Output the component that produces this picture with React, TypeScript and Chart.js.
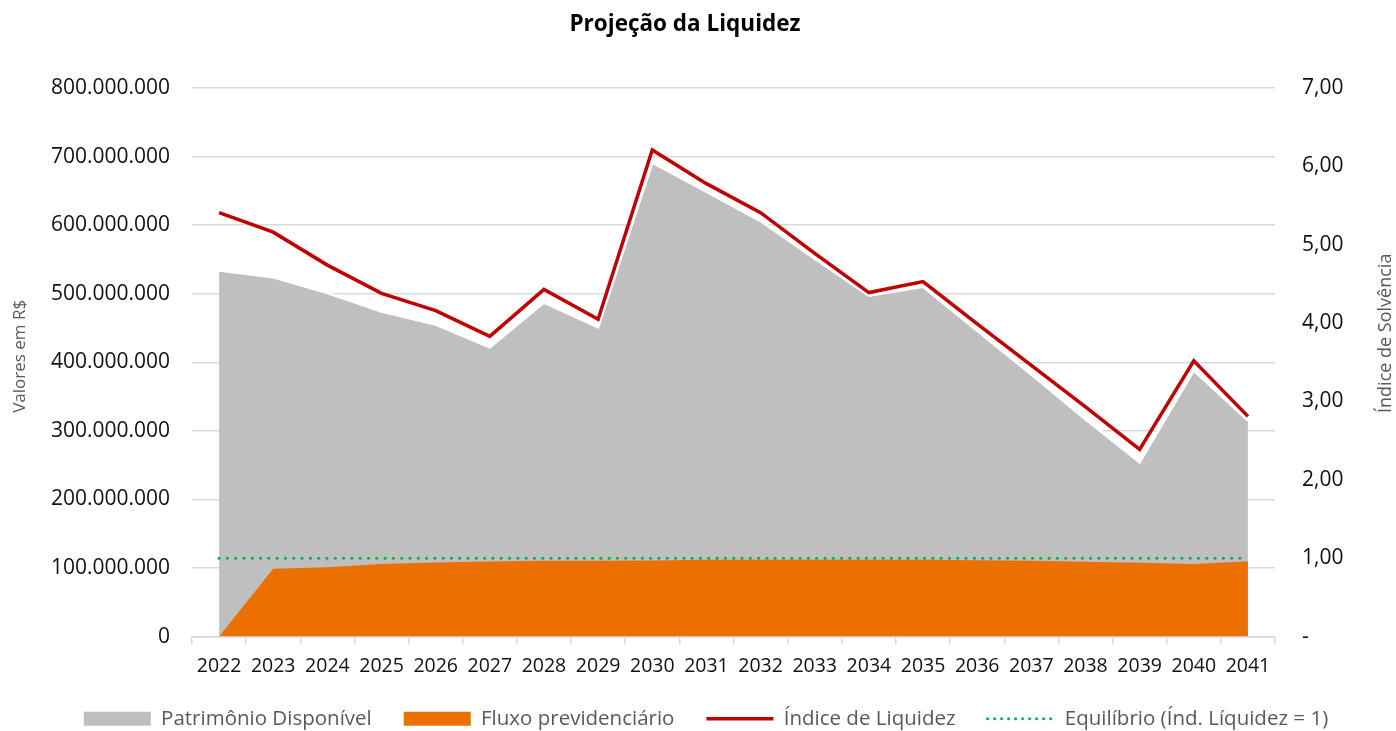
import React, { useEffect, useRef } from "react";
import { Chart, registerables } from "chart.js";

Chart.register(...registerables);

const years = ["2022","2023","2024","2025","2026","2027","2028","2029","2030","2031","2032","2033","2034","2035","2036","2037","2038","2039","2040","2041"];
const patrimonioDisponivel = [534000000, 524000000, 501000000, 474000000, 455000000, 422000000, 487000000, 451000000, 691000000, 649000000, 606000000, 551000000, 497000000, 510000000, 446000000, 382000000, 317000000, 254000000, 388000000, 315000000];
const fluxoPrevidenciario = [0, 98800000, 101000000, 106000000, 108000000, 109500000, 110500000, 110500000, 111000000, 112000000, 112000000, 112000000, 112000000, 112000000, 111500000, 110500000, 109000000, 107600000, 106000000, 110000000];
const indiceLiquidez = [5.41, 5.16, 4.74, 4.38, 4.16, 3.83, 4.43, 4.05, 6.21, 5.78, 5.41, 4.89, 4.39, 4.53, 3.99, 3.46, 2.93, 2.39, 3.52, 2.81];
const equilibrio = [1, 1, 1, 1, 1, 1, 1, 1, 1, 1, 1, 1, 1, 1, 1, 1, 1, 1, 1, 1];
const leftTicksMax = 800000000;
const rightTicksMax = 7;

const chartTitle = "Projeção da Liquidez";
const leftAxisTitle = "Valores em R$";
const rightAxisTitle = "Índice de Solvência";

const FONT = "'Open Sans', 'Noto Sans', sans-serif";

function fmtThousands(v: number): string {
  const s = Math.round(v).toString();
  return s.replace(/\B(?=(\d{3})+(?!\d))/g, ".");
}

const titlesPlugin = {
  id: "titles",
  afterDraw(chart: any) {
    const { ctx, chartArea } = chart;
    const mid = (chartArea.top + chartArea.bottom) / 2;
    ctx.save();
    ctx.fillStyle = "#000000";
    ctx.font = `bold 22.5px ${FONT}`;
    ctx.textAlign = "center";
    ctx.textBaseline = "middle";
    ctx.fillText(chartTitle, 685, 25);
    ctx.restore();

    ctx.save();
    ctx.fillStyle = "#595959";
    ctx.font = `17px ${FONT}`;
    ctx.textAlign = "center";
    ctx.textBaseline = "middle";
    ctx.translate(20, mid - 6);
    ctx.rotate(-Math.PI / 2);
    ctx.fillText(leftAxisTitle, 0, 0);
    ctx.restore();

    ctx.save();
    ctx.fillStyle = "#595959";
    ctx.font = `18px ${FONT}`;
    ctx.textAlign = "center";
    ctx.textBaseline = "middle";
    ctx.translate(1386, mid - 29);
    ctx.rotate(-Math.PI / 2);
    ctx.fillText(rightAxisTitle, 0, 0);
    ctx.restore();
  },
};

export default function App() {
  const ref = useRef<HTMLCanvasElement | null>(null);

  useEffect(() => {
    if (!ref.current) return;
    const chart = new Chart(ref.current, {
      type: "line",
      data: {
        labels: years,
        datasets: [
          {
            label: "Patrimônio Disponível",
            data: patrimonioDisponivel,
            yAxisID: "y",
            fill: "origin",
            backgroundColor: "#BFBFBF",
            borderColor: "#FFFFFF",
            borderWidth: 2.5,
            pointRadius: 0,
            tension: 0,
            order: 4,
          },
          {
            label: "Fluxo previdenciário",
            data: fluxoPrevidenciario,
            yAxisID: "y",
            fill: "origin",
            backgroundColor: "#EC7000",
            borderColor: "#EC7000",
            borderWidth: 0,
            pointRadius: 0,
            tension: 0,
            order: 3,
          },
          {
            label: "Índice de Liquidez",
            data: indiceLiquidez,
            yAxisID: "y2",
            fill: false,
            borderColor: "#C00000",
            backgroundColor: "#C00000",
            borderWidth: 3.5,
            pointRadius: 0,
            tension: 0,
            order: 1,
          },
          {
            label: "Equilíbrio (Índ. Líquidez = 1)",
            data: equilibrio,
            yAxisID: "y2",
            fill: false,
            borderColor: "#00B050",
            backgroundColor: "#00B050",
            borderWidth: 3.2,
            borderDash: [0, 8.3],
            borderCapStyle: "round",
            pointRadius: 0,
            tension: 0,
            order: 2,
          },
        ],
      },
      options: {
        responsive: false,
        animation: false,
        devicePixelRatio: 1,
        layout: { padding: { top: 88, bottom: -8, left: 16, right: 0 } },
        plugins: {
          tooltip: { enabled: false },
          title: { display: false },
          legend: {
            display: true,
            position: "bottom",
            labels: {
              usePointStyle: true,
              pointStyleWidth: 67,
              boxHeight: 14,
              padding: 32,
              color: "#595959",
              font: { family: FONT, size: 20.5 },
              sort: (a: any, b: any) => a.datasetIndex - b.datasetIndex,
              generateLabels: (chart: any) => {
                const items = Chart.defaults.plugins.legend.labels.generateLabels(chart);
                return items.map((it: any) => {
                  if (it.datasetIndex === 0) {
                    return { ...it, pointStyle: "rect", fillStyle: "#BFBFBF", strokeStyle: "#BFBFBF", lineWidth: 0, lineDash: [] };
                  }
                  if (it.datasetIndex === 1) {
                    return { ...it, pointStyle: "rect", fillStyle: "#EC7000", strokeStyle: "#EC7000", lineWidth: 0, lineDash: [] };
                  }
                  if (it.datasetIndex === 2) {
                    return { ...it, pointStyle: "line", strokeStyle: "#C00000", lineWidth: 3.5, lineDash: [] };
                  }
                  return { ...it, pointStyle: "line", strokeStyle: "#00B050", lineWidth: 3, lineDash: [0, 7], lineCap: "round" };
                });
              },
            },
          },
        },
        scales: {
          x: {
            type: "category",
            offset: true,
            grid: {
              offset: true,
              drawOnChartArea: false,
              drawTicks: true,
              tickLength: 8,
              color: "#D9D9D9",
              lineWidth: 1.5,
            },
            border: { display: true, color: "#D9D9D9", width: 1.5 },
            ticks: {
              color: "#111111",
              font: { family: FONT, size: 19.5 },
              padding: 10,
              maxRotation: 0,
              autoSkip: false,
            },
            afterFit: (scale: any) => {
              scale.height = scale.height - 11.5;
            },
          },
          y: {
            position: "left",
            min: 0,
            max: leftTicksMax,
            grid: { color: "#D9D9D9", lineWidth: 1.5, drawTicks: false },
            border: { display: false },
            ticks: {
              stepSize: 100000000,
              color: "#111111",
              font: { family: FONT, size: 21 },
              padding: 22,
              callback: (v: any) => fmtThousands(Number(v)),
            },
            afterFit: (scale: any) => {
              scale.width = 176;
            },
          },
          y2: {
            position: "right",
            min: 0,
            max: rightTicksMax,
            grid: { drawOnChartArea: false, drawTicks: false },
            border: { display: false },
            ticks: {
              stepSize: 1,
              color: "#111111",
              font: { family: FONT, size: 21 },
              padding: 27,
              callback: (v: any) => (Number(v) === 0 ? "-" : Number(v).toFixed(2).replace(".", ",")),
            },
            afterFit: (scale: any) => {
              scale.width = 121;
            },
          },
        },
      },
      plugins: [titlesPlugin],
    } as any);
    return () => chart.destroy();
  }, []);

  return (
    <div style={{ position: "fixed", left: 0, top: 0, width: 1396, height: 731, background: "#FFFFFF" }}>
      <canvas ref={ref} width={1396} height={731} style={{ width: 1396, height: 731, display: "block" }} />
    </div>
  );
}
